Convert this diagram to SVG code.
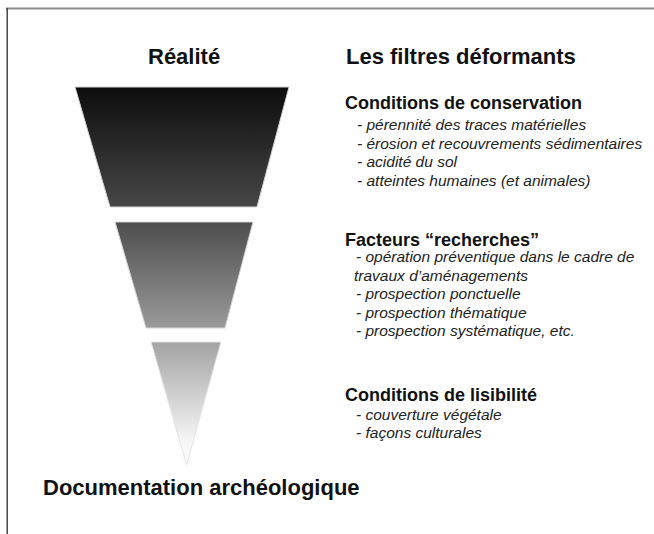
<svg xmlns="http://www.w3.org/2000/svg" width="654" height="534" viewBox="0 0 654 534">
  <style>
    .title { font-family: "Liberation Sans", Arial, sans-serif; font-weight: bold; font-size: 22px; fill: #111; }
    .head { font-family: "Liberation Sans", Arial, sans-serif; font-weight: bold; font-size: 18px; fill: #111; }
    .item { font-family: "Liberation Sans", Arial, sans-serif; font-style: italic; font-size: 15.5px; fill: #222; }
    .funnel { stroke: #d4d4d4; stroke-width: 1; fill: url(#g); }
  </style>
  <defs>
    <linearGradient id="g" gradientUnits="userSpaceOnUse" x1="0" y1="87" x2="0" y2="465">
      <stop offset="0" stop-color="#0d0d0d"/>
      <stop offset="0.317" stop-color="#474747"/>
      <stop offset="0.357" stop-color="#4d4d4d"/>
      <stop offset="0.637" stop-color="#9a9a9a"/>
      <stop offset="0.675" stop-color="#a3a3a3"/>
      <stop offset="0.93" stop-color="#f4f4f4"/>
      <stop offset="1" stop-color="#ffffff"/>
    </linearGradient>
  </defs>
  <rect width="654" height="534" fill="#fff"/>
  <g id="frame">
    <line x1="6" y1="8.5" x2="654" y2="8.5" stroke="#8a8a8a" stroke-width="2"/>
    <line x1="7.2" y1="8" x2="7.2" y2="534" stroke="#444" stroke-width="1.5"/>
  </g>
  <g id="funnel">
    <polygon id="filter1" class="funnel" points="75,87 289,87 257,207 110,207"/>
    <polygon id="filter2" class="funnel" points="115,222 253,222 225,328 146,328"/>
    <polygon id="filter3" class="funnel" style="stroke:#e4e4e4" points="151,342 221,342 186.5,465"/>
  </g>
  <g id="titles">
    <text class="title" x="148" y="64">Réalité</text>
    <text class="title" x="346" y="64">Les filtres déformants</text>
    <text class="title" x="43" y="495">Documentation archéologique</text>
  </g>
  <g id="conservation">
    <text class="head" x="345" y="109">Conditions de conservation</text>
    <text class="item" x="357" y="130">- pérennité des traces matérielles</text>
    <text class="item" x="357" y="148.5">- érosion et recouvrements sédimentaires</text>
    <text class="item" x="357" y="167">- acidité du sol</text>
    <text class="item" x="357" y="186">- atteintes humaines (et animales)</text>
  </g>
  <g id="recherches">
    <text class="head" x="345" y="246">Facteurs “recherches”</text>
    <text class="item" x="356" y="262">- opération préventique dans le cadre de</text>
    <text class="item" x="354" y="281">travaux d’aménagements</text>
    <text class="item" x="356" y="299">- prospection ponctuelle</text>
    <text class="item" x="356" y="318">- prospection thématique</text>
    <text class="item" x="356" y="336">- prospection systématique, etc.</text>
  </g>
  <g id="lisibilite">
    <text class="head" x="345" y="401">Conditions de lisibilité</text>
    <text class="item" x="356" y="419.5">- couverture végétale</text>
    <text class="item" x="356" y="437.5">- façons culturales</text>
  </g>
</svg>
